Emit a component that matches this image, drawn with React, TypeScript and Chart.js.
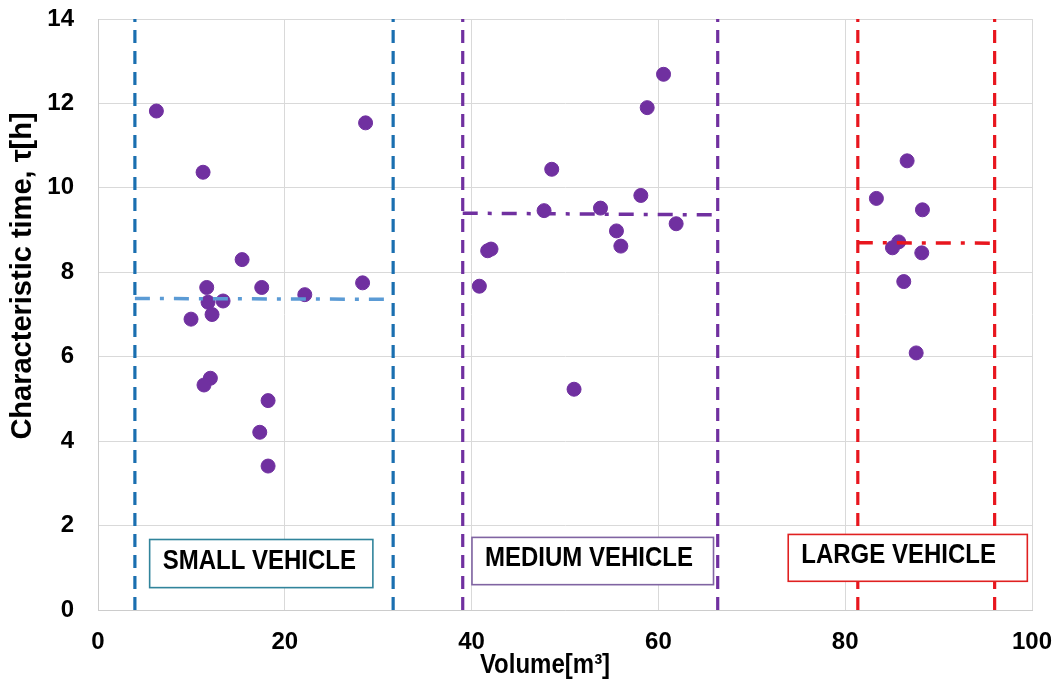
import React, { useEffect, useRef } from "react";
import { Chart, registerables } from "chart.js";

Chart.register(...registerables);

// ---- data ----
const smallX = [6.25, 28.65, 11.25, 15.43, 11.64, 17.53, 28.33, 22.14, 11.78, 13.39, 12.21, 9.96, 12.03, 11.35, 18.21, 17.32, 18.21];
const smallY = [11.82, 11.54, 10.37, 8.3, 7.64, 7.64, 7.75, 7.47, 7.29, 7.32, 7.0, 6.89, 5.49, 5.33, 4.96, 4.21, 3.41];
const mediumX = [60.55, 58.8, 48.58, 58.12, 47.76, 53.8, 55.51, 61.9, 55.98, 42.08, 41.72, 40.83, 50.97];
const mediumY = [12.69, 11.9, 10.44, 9.82, 9.46, 9.52, 8.98, 9.15, 8.62, 8.55, 8.51, 7.67, 5.23];
const largeX = [86.63, 83.34, 88.27, 85.73, 85.06, 88.2, 86.27, 87.6];
const largeY = [10.64, 9.75, 9.48, 8.72, 8.58, 8.46, 7.78, 6.09];

const groupNames = ["SMALL VEHICLE", "MEDIUM VEHICLE", "LARGE VEHICLE"];
const groupStart = [3.95, 39.05, 81.35];
const groupEnd = [31.6, 66.35, 96.0];
const groupMeanStart = [7.38, 9.4, 8.7];
const groupMeanEnd = [7.36, 9.36, 8.69];

const xTicks = [0, 20, 40, 60, 80, 100];
const yTicks = [0, 2, 4, 6, 8, 10, 12, 14];

// label boxes (data coordinates)
const boxLeft = [5.53, 40.04, 73.9];
const boxRight = [29.43, 65.9, 99.5];
const boxTop = [1.67, 1.72, 1.79];
const boxBottom = [0.53, 0.6, 0.68];

// ---- styles ----
const FONT = "'Liberation Sans', Arial, sans-serif";
const pointColor = "#7030a0";
const groupEdgeColors = ["#1a6fb0", "#7030a0", "#e8161e"];
const groupMeanColors = ["#5b9bd5", "#7030a0", "#e8161e"];
const boxBorderColors = ["#31849b", "#8064a2", "#e02020"];

const toPts = (xs: number[], ys: number[]) => xs.map((v, i) => ({ x: v, y: ys[i] }));

const annotationPlugin = {
  id: "annot",
  afterDatasetsDraw(chart: any) {
    const { ctx, scales } = chart;
    const xs = scales.x;
    const ys = scales.y;
    ctx.save();
    for (let i = 0; i < groupNames.length; i++) {
      const l = xs.getPixelForValue(boxLeft[i]);
      const r = xs.getPixelForValue(boxRight[i]);
      const t = ys.getPixelForValue(boxTop[i]);
      const b = ys.getPixelForValue(boxBottom[i]);
      ctx.fillStyle = "#ffffff";
      ctx.fillRect(l, t, r - l, b - t);
      ctx.strokeStyle = boxBorderColors[i];
      ctx.lineWidth = 1.6;
      ctx.strokeRect(l, t, r - l, b - t);
      ctx.save();
      ctx.translate(l + 13, t + 29);
      ctx.scale(1, 1.18);
      ctx.fillStyle = "#000000";
      ctx.font = "bold 24px " + FONT;
      ctx.textAlign = "left";
      ctx.textBaseline = "alphabetic";
      ctx.fillText(groupNames[i], 0, 0);
      ctx.restore();
    }
    ctx.restore();
  },
  afterDraw(chart: any) {
    const { ctx, chartArea } = chart;
    ctx.save();
    // x title
    ctx.save();
    ctx.translate((chartArea.left + chartArea.right) / 2 - 20, 673);
    ctx.scale(1, 1.12);
    ctx.fillStyle = "#000";
    ctx.font = "bold 24px " + FONT;
    ctx.textAlign = "center";
    ctx.textBaseline = "alphabetic";
    ctx.fillText("Volume[m³]", 0, 0);
    ctx.restore();
    // y title
    ctx.save();
    ctx.translate(23, 276);
    ctx.rotate(-Math.PI / 2);
    ctx.fillStyle = "#000";
    ctx.font = "bold 29px " + FONT;
    ctx.textAlign = "center";
    ctx.textBaseline = "middle";
    ctx.fillText("Characteristic time, τ[h]", 0, 0);
    ctx.restore();
    ctx.restore();
  },
};

export default function App() {
  const ref = useRef<HTMLCanvasElement | null>(null);

  useEffect(() => {
    if (!ref.current) return;
    Chart.defaults.font.family = FONT;

    const datasets: any[] = [];
    const scatterSets: [string, number[], number[]][] = [
      ["Small", smallX, smallY],
      ["Medium", mediumX, mediumY],
      ["Large", largeX, largeY],
    ];
    for (const [name, xs, ys] of scatterSets) {
      datasets.push({
        label: name,
        data: toPts(xs, ys),
        backgroundColor: pointColor,
        borderColor: pointColor,
        pointRadius: 7,
        showLine: false,
        order: 1,
      });
    }
    for (let i = 0; i < groupNames.length; i++) {
      datasets.push({
        label: groupNames[i] + " mean",
        data: [
          { x: groupStart[i], y: groupMeanStart[i] },
          { x: groupEnd[i], y: groupMeanEnd[i] },
        ],
        borderColor: groupMeanColors[i],
        borderWidth: 3.5,
        borderDash: [15, 10, 4, 10],
        pointRadius: 0,
        showLine: true,
        order: 0,
      });
      datasets.push({
        label: groupNames[i] + " start",
        data: [
          { x: groupStart[i], y: 0 },
          { x: groupStart[i], y: 14 },
        ],
        borderColor: groupEdgeColors[i],
        borderWidth: 3.2,
        borderDash: [13, 8],
        pointRadius: 0,
        showLine: true,
        order: 2,
      });
      datasets.push({
        label: groupNames[i] + " end",
        data: [
          { x: groupEnd[i], y: 0 },
          { x: groupEnd[i], y: 14 },
        ],
        borderColor: groupEdgeColors[i],
        borderWidth: 3.2,
        borderDash: [13, 8],
        pointRadius: 0,
        showLine: true,
        order: 2,
      });
    }

    const chart = new Chart(ref.current, {
      type: "scatter",
      data: { datasets },
      options: {
        responsive: false,
        animation: false,
        layout: { padding: { top: 19, right: 29, left: 0, bottom: 0 } },
        plugins: {
          legend: { display: false },
          tooltip: { enabled: false },
        },
        scales: {
          x: {
            type: "linear",
            min: 0,
            max: 100,
            afterBuildTicks: (s: any) => {
              s.ticks = xTicks.map((v) => ({ value: v }));
            },
            afterFit: (s: any) => {
              s.height = 78;
              s.paddingLeft = 0;
              s.paddingRight = 0;
            },
            grid: { color: "#d9d9d9", lineWidth: 1, drawTicks: false },
            border: { color: "#cccccc" },
            ticks: {
              color: "#000",
              font: { size: 24, weight: "bold", family: FONT },
              padding: 18,
              maxRotation: 0,
            },
          },
          y: {
            type: "linear",
            min: 0,
            max: 14,
            afterBuildTicks: (s: any) => {
              s.ticks = yTicks.map((v) => ({ value: v }));
            },
            afterFit: (s: any) => {
              s.width = 98;
              s.paddingTop = 0;
              s.paddingBottom = 0;
            },
            grid: { color: "#d9d9d9", lineWidth: 1, drawTicks: false },
            border: { color: "#cccccc" },
            ticks: {
              color: "#000",
              font: { size: 24, weight: "bold", family: FONT },
              padding: 24,
            },
          },
        },
      } as any,
      plugins: [annotationPlugin],
    });
    return () => chart.destroy();
  }, []);

  return (
    <div style={{ position: "absolute", left: 0, top: 0, width: 1061, height: 688, background: "#fff" }}>
      <canvas ref={ref} width={1061} height={688} style={{ display: "block" }} />
    </div>
  );
}
